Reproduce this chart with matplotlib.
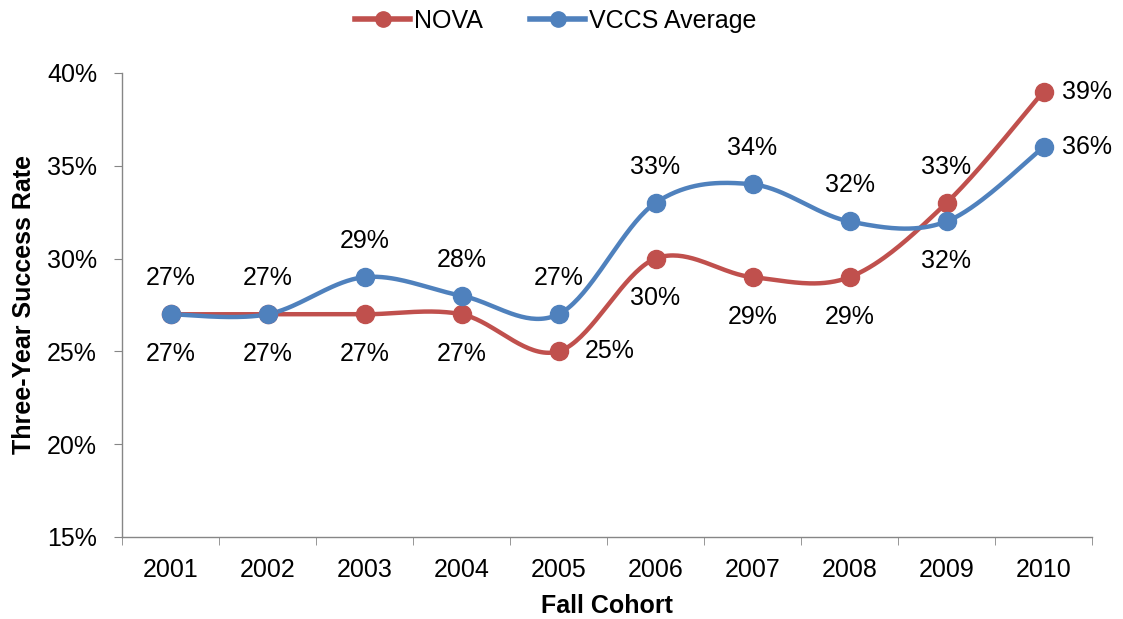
import matplotlib
matplotlib.use("Agg")
import matplotlib.pyplot as plt
from matplotlib.lines import Line2D
import numpy as np
from matplotlib.ticker import FuncFormatter

years = ["2001", "2002", "2003", "2004", "2005", "2006", "2007", "2008", "2009", "2010"]
nova = [27, 27, 27, 27, 25, 30, 29, 29, 33, 39]
vccs = [27, 27, 29, 28, 27, 33, 34, 32, 32, 36]
# label placement per point: 'a' above, 'b' below, 'r' right
nova_pos = ['b', 'b', 'b', 'b', 'r', 'b', 'b', 'b', 'a', 'r']
vccs_pos = ['a', 'a', 'a', 'a', 'a', 'a', 'a', 'a', 'b', 'r']

RED = "#C0504D"
BLUE = "#4F81BD"
FS = 18

plt.rcParams['font.family'] = ['Liberation Sans', 'DejaVu Sans']

def smooth(x, y, n=40):
    x = np.asarray(x, float); y = np.asarray(y, float)
    P = np.column_stack([x, y])
    out = []
    for i in range(len(P) - 1):
        p0 = P[i - 1] if i > 0 else P[i]
        p1 = P[i]; p2 = P[i + 1]
        p3 = P[i + 2] if i + 2 < len(P) else P[i + 1]
        c1 = p1 + (p2 - p0) / 6.0
        c2 = p2 - (p3 - p1) / 6.0
        t = np.linspace(0, 1, n)[:, None]
        seg = (1 - t) ** 3 * p1 + 3 * (1 - t) ** 2 * t * c1 + 3 * (1 - t) * t ** 2 * c2 + t ** 3 * p2
        out.append(seg if i == 0 else seg[1:])
    s = np.vstack(out)
    return s[:, 0], s[:, 1]

fig = plt.figure(figsize=(11.23, 6.19), dpi=100)
ax = fig.add_axes([122 / 1123, 1 - 537 / 619, (1092 - 122) / 1123, (537 - 73) / 619])

xs = np.arange(len(years))
handles = []
for vals, col, lab in [(nova, RED, "NOVA"), (vccs, BLUE, "VCCS Average")]:
    v = np.array(vals) / 100.0
    sx, sy = smooth(xs, v)
    ax.plot(sx, sy, color=col, lw=3.2, zorder=3, solid_capstyle='round')
    ax.plot(xs, v, 'o', color=col, ms=13, zorder=4)
    handles.append(Line2D([], [], color=col, lw=4, marker='o', ms=11, label=lab))

def annotate(vals, poss, rdx):
    for i, (v, p) in enumerate(zip(vals, poss)):
        y = v / 100.0
        if p == 'a':
            ax.annotate(f"{v}%", (i, y), xytext=(0, 26), textcoords='offset points',
                        ha='center', va='center', fontsize=FS)
        elif p == 'b':
            ax.annotate(f"{v}%", (i, y), xytext=(0, -28.5), textcoords='offset points',
                        ha='center', va='center', fontsize=FS)
        else:
            ax.annotate(f"{v}%", (i, y), xytext=(rdx.get(i, 13), 0), textcoords='offset points',
                        ha='left', va='center', fontsize=FS)

annotate(nova, nova_pos, {4: 19, 9: 13})
annotate(vccs, vccs_pos, {9: 13})

ax.set_xlim(-0.5, len(years) - 0.5)
ax.set_ylim(0.15, 0.40)
ax.set_yticks(np.arange(0.15, 0.401, 0.05))
ax.yaxis.set_major_formatter(FuncFormatter(lambda v, p: f"{round(v * 100)}%"))
ax.set_xticks(xs)
ax.set_xticklabels(years)
ax.set_xticks(np.arange(-0.5, len(years), 1), minor=True)
ax.tick_params(axis='x', which='major', length=0, labelsize=FS, pad=15)
ax.tick_params(axis='x', which='minor', length=6, color='#868686', direction='out')
ax.tick_params(axis='y', length=6, color='#868686', direction='out', labelsize=FS, pad=12)
for s in ['top', 'right']:
    ax.spines[s].set_visible(False)
for s in ['left', 'bottom']:
    ax.spines[s].set_color('#868686')
    ax.spines[s].set_linewidth(1)

ax.set_xlabel("Fall Cohort", fontsize=FS, fontweight='bold', labelpad=9)
ax.set_ylabel("Three-Year Success Rate", fontsize=FS, fontweight='bold', labelpad=8)

fig.legend(handles=handles, loc='upper center', bbox_to_anchor=(0.495, 1.022), ncol=2, frameon=False,
           fontsize=FS, handlelength=2.2, handletextpad=0.15, columnspacing=1.9)

fig.savefig("out.png", dpi=100)
